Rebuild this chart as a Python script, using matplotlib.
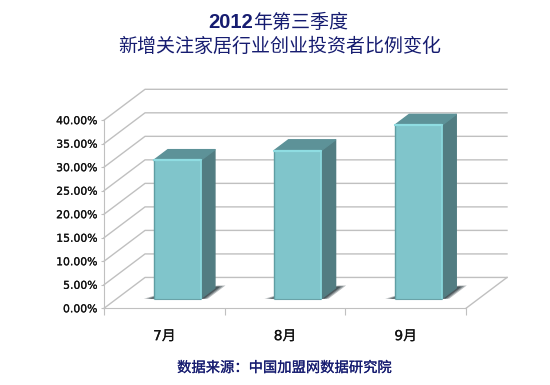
import numpy as np
import matplotlib
matplotlib.use("Agg")
import matplotlib.pyplot as plt
import matplotlib.patheffects as pe
from matplotlib.patches import Polygon

months = ["7月", "8月", "9月"]
values = [29.4, 31.5, 36.9]
y_ticks = [0, 5, 10, 15, 20, 25, 30, 35, 40]
y_labels = ["0.00%", "5.00%", "10.00%", "15.00%", "20.00%", "25.00%", "30.00%", "35.00%", "40.00%"]

DX = 0.34
DY = 6.56
D0 = 0.31
D1 = 0.66
BAR_W = 0.39
NAVY = "#161c70"
GRID = "#c0c0c0"
CJK = ["Noto Sans CJK SC", "DejaVu Sans"]
LABEL = ["DejaVu Sans", "Noto Sans CJK SC"]


def proj(x, y, d):
    return x + d * DX, y + d * DY


def face(ax, pts, color, z, edge="none", lw=0):
    ax.add_patch(Polygon(pts, closed=True, facecolor=color, edgecolor=edge, linewidth=lw,
                         joinstyle="round", zorder=z, clip_on=False))


def draw_bar(ax, i, v):
    xl = i + 0.5 - BAR_W / 2
    xr = i + 0.5 + BAR_W / 2
    # shadow on the floor, stacked so it fades out at the rim
    for s, a in [(1.0, 0.35), (0.75, 0.45), (0.5, 0.7)]:
        face(ax, [proj(xl - 0.08 * s, 0, D0), proj(xr + 0.06 * s, 0, D0),
                  proj(xr + 0.06 * s, 0, D1 + 0.08 * s), proj(xr, 0, D1 + 0.08 * s),
                  proj(xl, 0, D0 + 0.15 * s)],
             (0.22, 0.27, 0.29, a), 3)
    # side, top, front
    face(ax, [proj(xr, 0, D0), proj(xr, 0, D1), proj(xr, v, D1), proj(xr, v, D0)], "#527d82", 4, "#527d82", 1.0)
    face(ax, [proj(xl, v, D0), proj(xr, v, D0), proj(xr, v, D1), proj(xl, v, D1)], "#5d9298", 4, "#5d9298", 1.0)
    face(ax, [proj(xl, 0, D0), proj(xr, 0, D0), proj(xr, v, D0), proj(xl, v, D0)], "#80c5cb", 5)
    # bevels
    x0, y0 = proj(xl, 0, D0)
    x1, y1 = proj(xr, v, D0)
    ax.plot([x0, x0], [y0, y1], color="#5f9ea3", lw=1.0, zorder=6, solid_capstyle="butt")
    ax.plot([x0, x1], [y1, y1], color="#8fdde2", lw=1.6, zorder=6, solid_capstyle="round")
    ax.plot([x1, x1], [y0, y1], color="#8ad8dd", lw=1.3, zorder=6, solid_capstyle="round")
    ax.plot([x0, x1], [y0, y0], color="#6aa3a8", lw=0.8, zorder=6, solid_capstyle="butt")


def main():
    fig = plt.figure(figsize=(5.5, 3.85), dpi=100, facecolor="white")
    ax = fig.add_axes([104 / 550, (385 - 308.3) / 385, (507 - 104) / 550, (308.3 - 89.3) / 385])
    n = len(months)
    ax.set_xlim(0, n + DX)
    ax.set_ylim(0, 40 + DY)
    ax.patch.set_visible(False)

    # walls
    for v in y_ticks:
        bx, by = proj(0, v, 1)
        ax.plot([0, bx, n + DX], [v, by, by], color=GRID, lw=1.0, zorder=1, clip_on=False)
    bx, by = proj(n, 0, 1)
    ax.plot([n, bx], [0, by], color=GRID, lw=1.0, zorder=1, clip_on=False)

    for i, v in enumerate(values):
        draw_bar(ax, i, v)

    for s in ["top", "right"]:
        ax.spines[s].set_visible(False)
    ax.spines["left"].set_bounds(0, 40)
    ax.spines["bottom"].set_bounds(0, n)
    ax.spines["left"].set_color(GRID)
    ax.spines["bottom"].set_color(GRID)
    ax.set_yticks(y_ticks, y_labels, fontsize=7.8, color="#111111", family=LABEL)
    ax.tick_params(axis="y", length=2, color=GRID, pad=2.5)
    ax.set_xticks(np.arange(n + 1), [""] * (n + 1))
    ax.tick_params(axis="x", which="major", length=5, color=GRID)
    ax.set_xticks(np.arange(n) + 0.5, months, minor=True, fontsize=9.9, color="#111111", family=LABEL)
    ax.tick_params(axis="x", which="minor", length=0, pad=15)
    # the reference labels are a little heavier than the regular face
    thick = [pe.withStroke(linewidth=0.15, foreground="#111111")]
    for t in ax.get_yticklabels() + ax.get_xticklabels(minor=True):
        t.set_path_effects(thick)

    fig.text(253 / 550, 1 - 22 / 385, "2012", family="Liberation Sans", weight="bold",
             fontsize=14.5, color=NAVY, ha="right", va="center")
    fig.text(253 / 550, 1 - 22 / 385, "年第三季度", family=CJK, fontsize=13.7, color=NAVY, ha="left", va="center")
    fig.text(279.5 / 550, 1 - 46 / 385, "新增关注家居行业创业投资者比例变化", family=CJK, fontsize=13.7,
             color=NAVY, ha="center", va="center")
    src = fig.text(284 / 550, 1 - 368 / 385, "数据来源：中国加盟网数据研究院", family=CJK, fontsize=10.3,
                   color=NAVY, ha="center", va="center")
    src.set_path_effects([pe.withStroke(linewidth=0.15, foreground=NAVY)])

    fig.savefig("out.png", dpi=100, facecolor="white")


if __name__ == "__main__":
    main()
